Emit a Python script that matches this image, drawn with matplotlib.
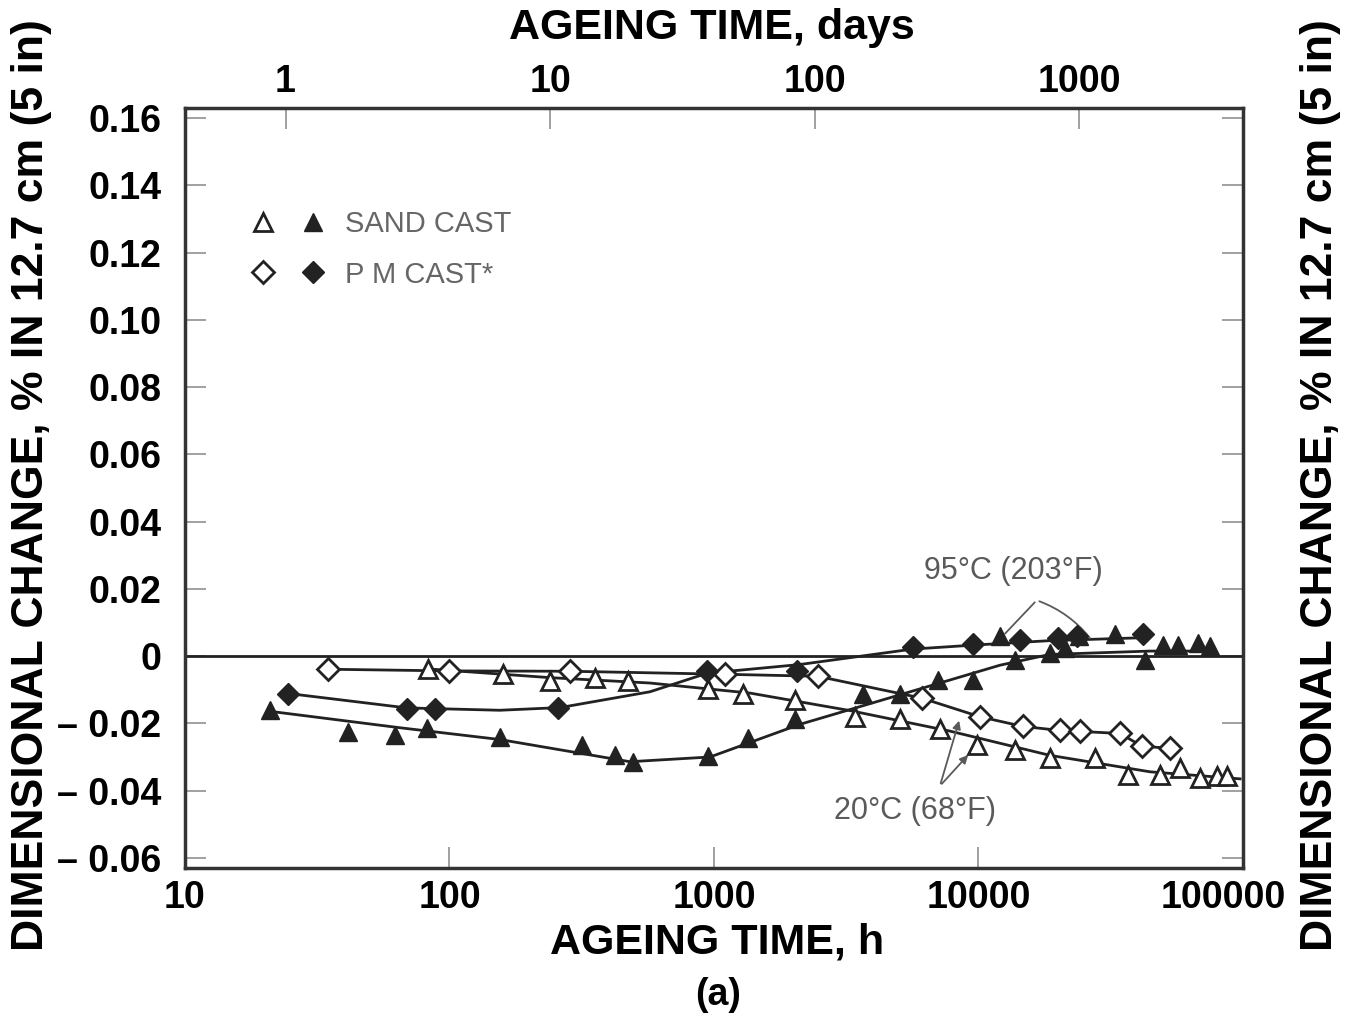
import matplotlib.pyplot as plt
from matplotlib.ticker import NullLocator
from matplotlib.transforms import ScaledTranslation
from matplotlib.legend_handler import HandlerTuple

plt.rcParams['font.family'] = ['Liberation Sans', 'DejaVu Sans']

# sand cast, 20 C (open triangles)
sand_20_h = [83, 159, 240, 355, 473, 949, 1288, 2024, 3410, 5050, 7150, 9870,
             13700, 18600, 27500, 36700, 48500, 57800, 68800, 79700, 87000]
sand_20_pct = [-0.0038, -0.0054, -0.0075, -0.0066, -0.0075, -0.0099, -0.0114,
               -0.0130, -0.0181, -0.0187, -0.0217, -0.0265, -0.0280, -0.0303,
               -0.0303, -0.0354, -0.0354, -0.0333, -0.0363, -0.0357, -0.0357]
sand_20_curve_h = [83, 240, 573, 1370, 3270, 7800, 18600, 44500, 97500]
sand_20_curve_pct = [-0.0038, -0.0064, -0.0080, -0.0110, -0.0162, -0.0223,
                     -0.0295, -0.0344, -0.0365]

# sand cast, 95 C (filled triangles)
sand_95_h = [20.9, 41.3, 62.2, 82.2, 155, 317, 423, 494, 949, 1345, 2024, 3660,
             5050, 7030, 9530, 12060, 13700, 18600, 21200, 24000, 32800, 42600,
             49900, 56800, 67600, 75000]
sand_95_pct = [-0.0161, -0.0226, -0.0235, -0.0214, -0.0241, -0.0265, -0.0295,
               -0.0316, -0.0296, -0.0243, -0.0187, -0.0113, -0.0114, -0.0070,
               -0.0070, 0.0059, -0.0012, 0.0008, 0.0023, 0.0060, 0.0067,
               -0.0013, 0.0032, 0.0032, 0.0038, 0.0029]
sand_95_curve_h = [20.9, 65, 155, 481, 966, 2110, 5050, 12060, 18600, 44500, 78300]
sand_95_curve_pct = [-0.0164, -0.0213, -0.0248, -0.0314, -0.0300, -0.0203,
                     -0.0115, -0.0027, 0.0005, 0.0015, 0.0015]

# permanent mould cast, 20 C (open diamonds)
pm_20_h = [34.8, 100, 286, 1100, 2470, 6110, 10100, 14700, 20300, 24200,
           34300, 41500, 53000]
pm_20_pct = [-0.0039, -0.0044, -0.0045, -0.0054, -0.0060, -0.0125, -0.0180,
             -0.0209, -0.0221, -0.0224, -0.0230, -0.0268, -0.0274]

# permanent mould cast, 95 C (filled diamonds)
pm_95_h = [24.5, 69, 88, 257, 942, 2060, 5650, 9530, 14350, 20000, 23500, 41900]
pm_95_pct = [-0.0112, -0.0156, -0.0156, -0.0153, -0.0043, -0.0045, 0.0027,
             0.0035, 0.0048, 0.0054, 0.0060, 0.0065]
pm_95_curve_h = [24.5, 69, 155, 262, 573, 942, 2110, 5650, 9700, 18600, 43000]
pm_95_curve_pct = [-0.0111, -0.0154, -0.0161, -0.0153, -0.0106, -0.0051,
                   -0.0025, 0.0021, 0.0033, 0.0046, 0.0055]

y_ticks = [-0.06, -0.04, -0.02, 0, 0.02, 0.04, 0.06, 0.08, 0.10, 0.12, 0.14, 0.16]
x_ticks = [10, 100, 1000, 10000, 100000]
x_labels = ['10', '100', '1000', '10000', '100000']
day_ticks = [1, 10, 100, 1000]

ink = '#222222'
grey = '#5a5a5a'
bold = {'fontweight': 'bold'}

fig = plt.figure(figsize=(13.54, 10.16), dpi=100)
ax = fig.add_axes([0.1366, 0.1457, 0.7814, 0.748])
ax.set_xscale('log')
ax.set_xlim(10, 100000)
ax.set_ylim(-0.063, 0.163)

ax.axhline(0, color=ink, lw=2, zorder=2)
ax.plot(sand_20_curve_h, sand_20_curve_pct, color=ink, lw=2, zorder=2)
ax.plot(sand_95_curve_h, sand_95_curve_pct, color=ink, lw=2, zorder=2)
ax.plot(pm_20_h, pm_20_pct, color=ink, lw=2, zorder=2)
ax.plot(pm_95_curve_h, pm_95_curve_pct, color=ink, lw=2, zorder=2)

tri_open = ax.plot(sand_20_h, sand_20_pct, ls='none', marker='^', ms=12.5,
                   mfc='white', mec=ink, mew=2, zorder=4)[0]
tri_fill = ax.plot(sand_95_h, sand_95_pct, ls='none', marker='^', ms=12.5,
                   mfc=ink, mec=ink, mew=1, zorder=4)[0]
dia_open = ax.plot(pm_20_h, pm_20_pct, ls='none', marker='D', ms=11,
                   mfc='white', mec=ink, mew=2, zorder=4)[0]
dia_fill = ax.plot(pm_95_h, pm_95_pct, ls='none', marker='D', ms=11,
                   mfc=ink, mec=ink, mew=1, zorder=4)[0]

ax.legend([(tri_open, tri_fill), (dia_open, dia_fill)],
          ['SAND CAST', 'P M CAST*'],
          handler_map={tuple: HandlerTuple(ndivide=None, pad=0.45)},
          loc='upper left', bbox_to_anchor=(0.056, 0.866), frameon=False,
          borderpad=0, borderaxespad=0, handlelength=3, handletextpad=0.47,
          labelspacing=0.78, numpoints=1, fontsize=21, labelcolor='#666666')

# temperature call-outs
ax.text(13500, 0.0253, '95°C (203°F)', fontsize=22, color=grey,
        ha='center', va='center')
ax.annotate('', xy=(12400, 0.0061), xytext=(16600, 0.0166),
            arrowprops=dict(arrowstyle='-', color=grey, lw=1.3))
ax.annotate('', xy=(26800, 0.0047), xytext=(16600, 0.0166),
            arrowprops=dict(arrowstyle='-', color=grey, lw=1.3,
                            connectionstyle='arc3,rad=-0.15'))
ax.text(5750, -0.046, '20°C (68°F)', fontsize=22, color=grey,
        ha='center', va='center')
ax.annotate('', xy=(8510, -0.0184), xytext=(7150, -0.0386),
            arrowprops=dict(arrowstyle='-|>', color=grey, lw=1.3,
                            mutation_scale=12))
ax.annotate('', xy=(9290, -0.0288), xytext=(7150, -0.0386),
            arrowprops=dict(arrowstyle='-|>', color=grey, lw=1.3,
                            mutation_scale=12))

ylabels = ['0' if t == 0 else ('– %.2f' % -t if t < 0 else '%.2f' % t) for t in y_ticks]
ax.set_yticks(y_ticks, ylabels, fontsize=27, **bold)
ax.set_xticks(x_ticks, x_labels, fontsize=27, **bold)
ax.xaxis.set_minor_locator(NullLocator())
ax.tick_params(axis='y', direction='in', length=15, width=1.3, color='#999999',
               right=True, pad=17)
ax.tick_params(axis='x', direction='in', length=15, width=1.3, color='#999999',
               pad=9)
# last hour label sits a little left of its tick in the original
last = ax.get_xticklabels()[-1]
last.set_transform(last.get_transform() +
                   ScaledTranslation(-0.2, 0, fig.dpi_scale_trans))
for s in ax.spines.values():
    s.set_linewidth(2.5)
    s.set_color('#333333')

top = ax.secondary_xaxis('top', functions=(lambda h: h / 24, lambda d: d * 24))
top.set_xticks(day_ticks, [str(d) for d in day_ticks], fontsize=27, **bold)
top.xaxis.set_minor_locator(NullLocator())
top.tick_params(direction='in', length=15, width=1.3, color='#999999', pad=6)

ylab = 'DIMENSIONAL CHANGE, % IN 12.7 cm (5 in)'
ax.set_ylabel(ylab, fontsize=32, **bold)
ax.yaxis.set_label_coords(-0.1257, 0.504)
fig.text(0.975, 0.5226, ylab, rotation=90, fontsize=32, ha='center',
         va='center', **bold)
fig.text(0.5296, 0.0719, 'AGEING TIME, h', fontsize=31, ha='center',
         va='center', **bold)
fig.text(0.526, 0.9724, 'AGEING TIME, days', fontsize=31, ha='center',
         va='center', **bold)
fig.text(0.530, 0.0207, '(a)', fontsize=27, ha='center', va='center', **bold)

fig.savefig('out.png', dpi=100)
